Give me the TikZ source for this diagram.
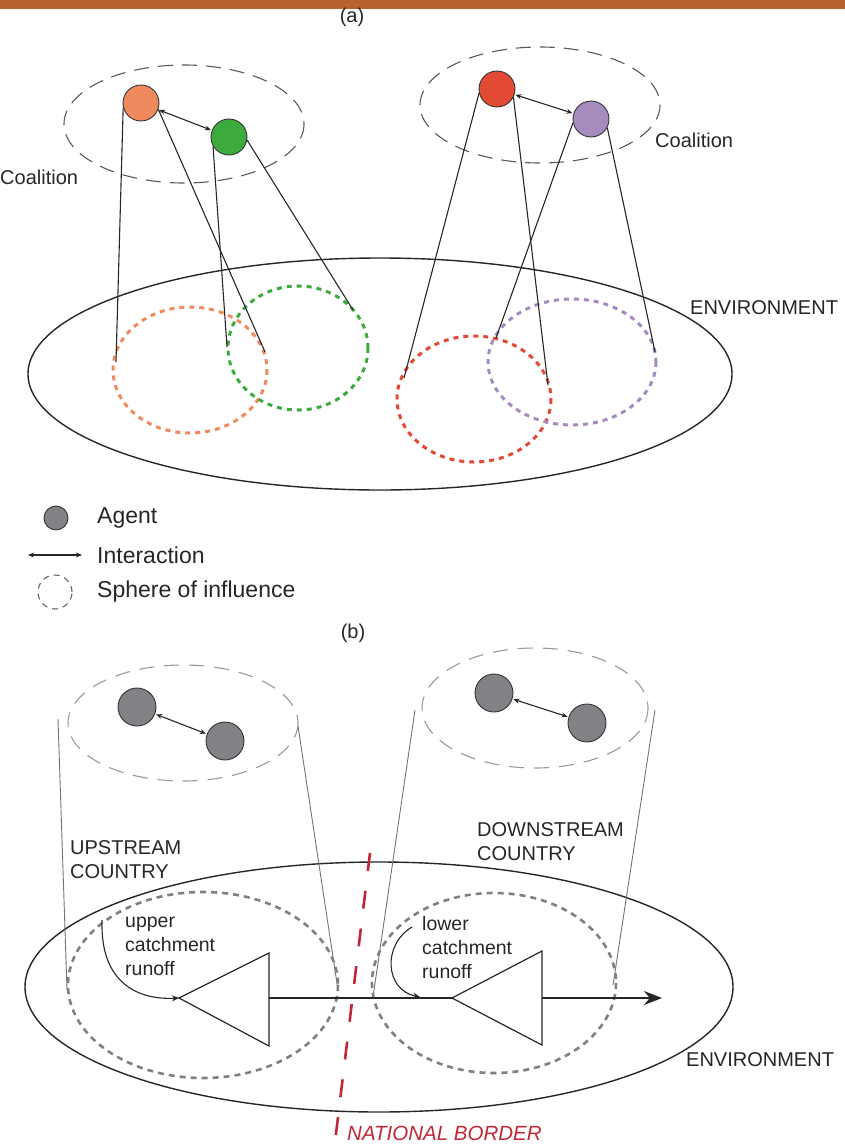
\documentclass[tikz,border=0pt]{standalone}
\usepackage{fontspec}
\setmainfont{Liberation Sans}
\usetikzlibrary{arrows.meta,shapes.geometric}
\definecolor{barcol}{HTML}{B8622E}
\definecolor{txt}{HTML}{262626}
\definecolor{agorange}{HTML}{EE8A5E}
\definecolor{aggreen}{HTML}{3DAA3D}
\definecolor{agred}{HTML}{E24A33}
\definecolor{agpurple}{HTML}{A68BBF}
\definecolor{aggray}{HTML}{808285}
\definecolor{bordred}{HTML}{C02838}
\tikzset{
  agent/.style={circle, draw=black!80, line width=0.9pt, minimum size=36pt, inner sep=0pt},
  lbl/.style={text=txt, font=\fontsize{20}{24}\selectfont, inner sep=0pt},
  leglbl/.style={text=txt, font=\fontsize{23}{27}\selectfont, inner sep=0pt, anchor=west},
  coal/.style={draw=black!65, line width=1.1pt, dash pattern=on 15pt off 9pt},
  cyl/.style={draw=black!40, line width=1.1pt, dash pattern=on 15pt off 10pt},
  sphere/.style={line width=3pt, dash pattern=on 5pt off 5pt},
  envline/.style={draw=black!85, line width=1.4pt},
  proj/.style={draw=black!85, line width=1.1pt},
  cproj/.style={draw=black!55, line width=0.9pt},
  inter/.style={draw=black!85, line width=1.1pt, {Stealth[length=6pt,width=5pt]}-{Stealth[length=6pt,width=5pt]}, shorten <=1pt, shorten >=1pt},
}
\begin{document}
\begin{tikzpicture}[x=1pt,y=-1pt]
\useasboundingbox (0,0) rectangle (845,1146);
\fill[barcol] (0,0) rectangle (845,9);
\node[lbl] (lbla) at (352,17) {(a)};

% ---------- (a) ----------
\draw[envline] (380,374) ellipse [x radius=352, y radius=116];
\node[lbl, anchor=west] (enva) at (690,308) {ENVIRONMENT};

\draw[coal] (184,124) ellipse [x radius=120, y radius=59];
\draw[coal] (540,105) ellipse [x radius=120, y radius=58];
\node[lbl, anchor=west] (coal1) at (0,177) {Coalition};
\node[lbl, anchor=west] (coal2) at (655,140) {Coalition};

\draw[sphere, draw=agorange] (190,370) ellipse [x radius=77, y radius=63];
\draw[sphere, draw=aggreen] (298,348) ellipse [x radius=70, y radius=62];
\draw[sphere, draw=agred] (474,399) ellipse [x radius=77, y radius=63];
\draw[sphere, draw=agpurple] (572,362) ellipse [x radius=84, y radius=63];

\node[agent, fill=agorange] (o) at (141,103) {};
\node[agent, fill=aggreen] (g) at (229,137) {};
\node[agent, fill=agred] (r) at (497,89) {};
\node[agent, fill=agpurple] (p) at (591,119) {};

\coordinate (o1) at (116,362);
\coordinate (o2) at (265,352);
\coordinate (g1) at (227,347);
\coordinate (g2) at (353,310);
\coordinate (r1) at (404,378);
\coordinate (r2) at (548,385);
\coordinate (p1) at (496,338);
\coordinate (p2) at (655,352);

\draw[proj] (o.195) -- (o1);
\draw[proj] (o.-20) -- (o2);
\draw[proj] (g.210) -- (g1);
\draw[proj] (g.-10) -- (g2);
\draw[proj] (r.193) -- (r1);
\draw[proj] (r.-27) -- (r2);
\draw[proj] (p.192) -- (p1);
\draw[proj] (p.-28) -- (p2);

\draw[inter] (o) -- (g);
\draw[inter] (r) -- (p);

% ---------- legend ----------
\node[circle, draw=black!80, line width=0.9pt, fill=aggray, minimum size=24pt, inner sep=0pt] (legag) at (56,518) {};
\node[leglbl] (legagt) at (97,518) {Agent};
\coordinate (lia) at (28,555);
\coordinate (lib) at (82,555);
\draw[inter, shorten <=0pt, shorten >=0pt] (lia) -- (lib);
\node[leglbl] (legint) at (97,555) {Interaction};
\node[circle, draw=black!60, line width=1.1pt, dash pattern=on 6pt off 5pt, minimum size=34pt, inner sep=0pt] (legsp) at (55,592) {};
\node[leglbl] (legspt) at (97,592) {Sphere of influence};

\node[lbl] (lblb) at (353,633) {(b)};

% ---------- (b) ----------
\draw[envline] (379,987) ellipse [x radius=354, y radius=125];
\node[lbl, anchor=west] (envb) at (686,1060) {ENVIRONMENT};

\draw[cyl] (183,723) ellipse [x radius=115, y radius=58];
\draw[cyl] (535,708) ellipse [x radius=113, y radius=60];

\coordinate (c1a) at (58,719);
\coordinate (c1b) at (67,990);
\coordinate (c2a) at (298,726);
\coordinate (c2b) at (338,990);
\coordinate (c3a) at (415,710);
\coordinate (c3b) at (373,997);
\coordinate (c4a) at (655,710);
\coordinate (c4b) at (613,985);
\draw[cproj] (c1a) -- (c1b);
\draw[cproj] (c2a) -- (c2b);
\draw[cproj] (c3a) -- (c3b);
\draw[cproj] (c4a) -- (c4b);

\draw[sphere, draw=black!50, line width=2.6pt, dash pattern=on 6pt off 5pt] (203,985) ellipse [x radius=135, y radius=93];
\draw[sphere, draw=black!50, line width=2.6pt, dash pattern=on 6pt off 5pt] (494,983) ellipse [x radius=122, y radius=90];

\node[agent, fill=aggray, minimum size=38pt] (a1) at (137,707) {};
\node[agent, fill=aggray, minimum size=38pt] (a2) at (225,741) {};
\node[agent, fill=aggray, minimum size=38pt] (a3) at (494,693) {};
\node[agent, fill=aggray, minimum size=38pt] (a4) at (587,723) {};
\draw[inter] (a1) -- (a2);
\draw[inter] (a3) -- (a4);

\node[lbl, anchor=west, align=left] (up) at (70,860) {UPSTREAM\\COUNTRY};
\node[lbl, anchor=west, align=left] (down) at (477,842) {DOWNSTREAM\\COUNTRY};

% triangles
\coordinate (t1a) at (179,998);
\coordinate (t1b) at (269,953);
\coordinate (t1c) at (269,1046);
\coordinate (t1m) at (269,998);
\coordinate (t2a) at (452,998);
\coordinate (t2b) at (542,951);
\coordinate (t2c) at (542,1045);
\coordinate (t2m) at (542,998);
\coordinate (outlet) at (662,998);
\draw[proj, line width=1.2pt] (t1a) -- (t1b) -- (t1c) -- cycle;
\draw[proj, line width=1.2pt] (t2a) -- (t2b) -- (t2c) -- cycle;
\draw[proj, line width=1.4pt] (t1m) -- (t2a);
\draw[proj, line width=1.4pt, -{Stealth[length=18pt,width=14pt]}] (t2m) -- (outlet);

\node[lbl, anchor=west, align=left, font=\fontsize{19.5}{24}\selectfont] (uct) at (125,946) {upper\\catchment\\runoff};
\node[lbl, anchor=west, align=left, font=\fontsize{19.5}{24}\selectfont] (lct) at (422,948) {lower\\catchment\\runoff};

\coordinate (u0) at (102,920);
\coordinate (l0) at (412,927);
\coordinate (lend) at (420,997);
\draw[proj, -{Stealth[length=7pt,width=6pt]}] (u0) .. controls (100,985) and (140,1000) .. (t1a);
\draw[proj, -{Stealth[length=7pt,width=6pt]}] (l0) .. controls (382,945) and (385,990) .. (lend);

% national border
\coordinate (nb1) at (370,853);
\coordinate (nb2) at (335,1142);
\draw[bordred, line width=2.6pt, dash pattern=on 18pt off 20pt] (nb1) -- (nb2);
\node[anchor=west, inner sep=0pt, text=bordred, font=\fontsize{20.5}{24}\selectfont\itshape] (nbt) at (347,1133) {NATIONAL BORDER};
\end{tikzpicture}
\end{document}
